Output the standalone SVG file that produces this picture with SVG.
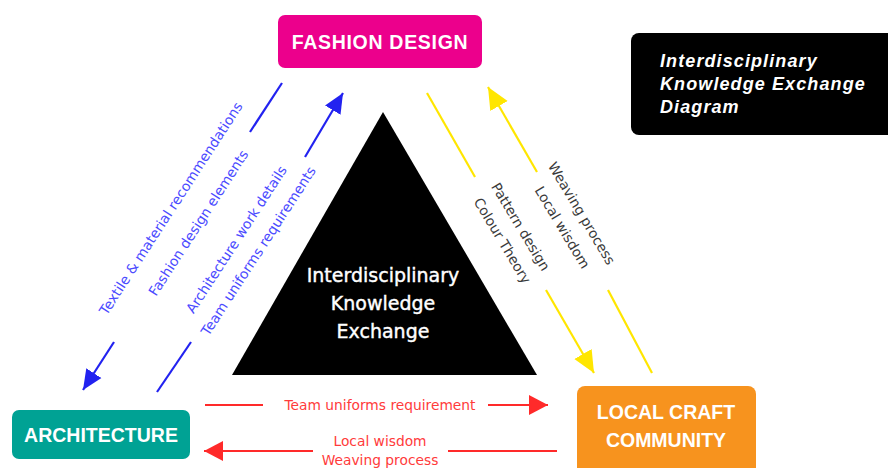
<svg xmlns="http://www.w3.org/2000/svg" width="888" height="468" viewBox="0 0 888 468">
  <style>
    .title { font-family: "Liberation Sans", Arial, sans-serif; font-weight: bold; font-size: 19.5px; fill: #ffffff; text-anchor: middle; }
    .info { font-family: "Liberation Sans", Arial, sans-serif; font-weight: bold; font-style: italic; font-size: 18px; fill: #ffffff; letter-spacing: 1.1px; }
    .center { font-family: "DejaVu Sans", sans-serif; font-size: 19px; fill: #ffffff; stroke: #ffffff; stroke-width: 0.4; text-anchor: middle; }
    .lbl { font-family: "DejaVu Sans", sans-serif; font-size: 13.8px; text-anchor: middle; }
    .blue-t { fill: #4b4bff; }
    .gray-t { fill: #3a3a3a; }
    .red-t { fill: #ff3b3b; }
    .bl { stroke: #2222f0; stroke-width: 2.2; fill: none; }
    .yl { stroke: #ffe600; stroke-width: 2.2; fill: none; }
    .rl { stroke: #ff2a2a; stroke-width: 2.2; fill: none; }
  </style>
  <defs>
    <marker id="ah-blue" markerUnits="userSpaceOnUse" markerWidth="20" markerHeight="20" refX="20" refY="10" orient="auto">
      <path d="M0,1 L20,10 L0,19 z" fill="#2222f0"/>
    </marker>
    <marker id="ah-yellow" markerUnits="userSpaceOnUse" markerWidth="22" markerHeight="22" refX="22" refY="11" orient="auto">
      <path d="M0,1 L22,11 L0,21 z" fill="#ffe600"/>
    </marker>
    <marker id="ah-red" markerUnits="userSpaceOnUse" markerWidth="20" markerHeight="22" refX="19" refY="11" orient="auto">
      <path d="M0,1 L19,11 L0,21 z" fill="#ff2a2a"/>
    </marker>
  </defs>

  <rect x="0" y="0" width="888" height="468" fill="#ffffff"/>

  <g id="connectors">
    <!-- Fashion -> Architecture (blue, down-left) -->
    <line class="bl" x1="282" y1="83" x2="250" y2="132"/>
    <line class="bl" x1="114" y1="342" x2="83" y2="390" marker-end="url(#ah-blue)"/>
    <!-- Architecture -> Fashion (blue, up-right) -->
    <line class="bl" x1="157" y1="392" x2="191" y2="342"/>
    <line class="bl" x1="305" y1="157" x2="343" y2="93" marker-end="url(#ah-blue)"/>
    <text class="lbl blue-t" transform="translate(175,211) rotate(-57)">Textile &amp; material recommendations</text>
    <text class="lbl blue-t" transform="translate(202.5,225.5) rotate(-57)">Fashion design elements</text>
    <text class="lbl blue-t" transform="translate(240.5,242) rotate(-57)">Architecture work details</text>
    <text class="lbl blue-t" transform="translate(262.5,253.5) rotate(-57)">Team uniforms requirements</text>

    <!-- Fashion -> Local craft (yellow, down-right) -->
    <line class="yl" x1="427" y1="93" x2="475" y2="177"/>
    <line class="yl" x1="546" y1="290" x2="594" y2="373" marker-end="url(#ah-yellow)"/>
    <!-- Local craft -> Fashion (yellow, up-left) -->
    <line class="yl" x1="652" y1="373" x2="608" y2="290"/>
    <line class="yl" x1="537" y1="172" x2="488" y2="87" marker-end="url(#ah-yellow)"/>
    <text class="lbl gray-t" transform="translate(516.5,229.2) rotate(59)">Pattern design</text>
    <text class="lbl gray-t" transform="translate(498.3,243.2) rotate(59)">Colour Theory</text>
    <text class="lbl gray-t" transform="translate(577.5,215.8) rotate(59)">Weaving process</text>
    <text class="lbl gray-t" transform="translate(558.3,230) rotate(59)">Local wisdom</text>

    <!-- Architecture -> Local craft (red) -->
    <line class="rl" x1="205" y1="405" x2="263" y2="405"/>
    <line class="rl" x1="488" y1="405" x2="548" y2="405" marker-end="url(#ah-red)"/>
    <text class="lbl red-t" x="380" y="410">Team uniforms requirement</text>
    <!-- Local craft -> Architecture (red) -->
    <line class="rl" x1="557" y1="451" x2="448" y2="451"/>
    <line class="rl" x1="313" y1="451" x2="204" y2="451" marker-end="url(#ah-red)"/>
    <text class="lbl red-t" x="380" y="446">Local wisdom</text>
    <text class="lbl red-t" x="380" y="464.5">Weaving process</text>
  </g>

  <g id="center-triangle">
    <polygon points="383,112 537,375 232,375" fill="#000000"/>
    <text class="center" x="383" y="282">Interdisciplinary</text>
    <text class="center" x="383" y="310">Knowledge</text>
    <text class="center" x="383" y="338">Exchange</text>
  </g>

  <g id="fashion-design">
    <rect x="278" y="15" width="204" height="53" rx="7" fill="#ec008c"/>
    <text class="title" x="380" y="49" style="letter-spacing:0.7px">FASHION DESIGN</text>
  </g>

  <g id="architecture">
    <rect x="12" y="410" width="178" height="49" rx="7" fill="#00a294"/>
    <text class="title" x="101" y="442">ARCHITECTURE</text>
  </g>

  <g id="local-craft-community">
    <rect x="577" y="386" width="179" height="100" rx="8" fill="#f7931e"/>
    <text class="title" x="666" y="419">LOCAL CRAFT</text>
    <text class="title" x="666" y="447">COMMUNITY</text>
  </g>

  <g id="info-box">
    <rect x="631" y="33" width="270" height="102" rx="8" fill="#000000"/>
    <text class="info" x="660" y="67">Interdisciplinary</text>
    <text class="info" x="660" y="90">Knowledge Exchange</text>
    <text class="info" x="660" y="113">Diagram</text>
  </g>
</svg>
